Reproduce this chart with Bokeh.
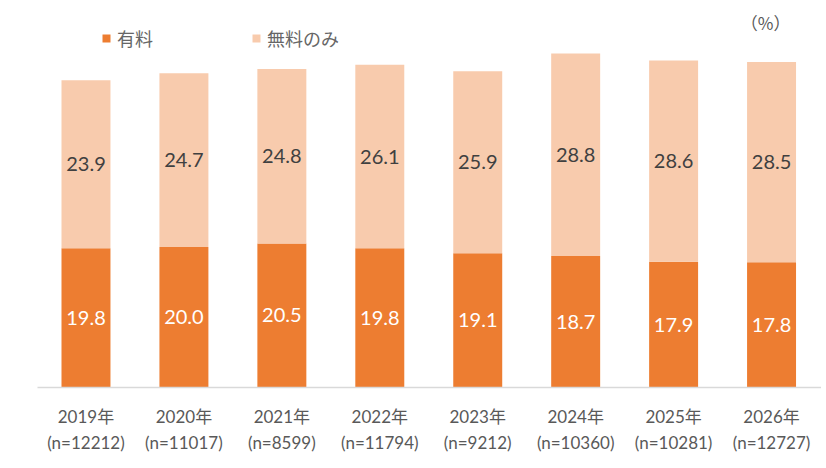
from bokeh.plotting import figure
from bokeh.models import (Range1d, LinearAxis, FixedTicker, Legend, LegendItem,
                          ColumnDataSource, Label)
from bokeh.core.properties import value
from bokeh.embed import file_html
from bokeh.resources import INLINE

years = ["2019年", "2020年", "2021年", "2022年", "2023年", "2024年", "2025年", "2026年"]
n_labels = ["(n=12212)", "(n=11017)", "(n=8599)", "(n=11794)", "(n=9212)",
            "(n=10360)", "(n=10281)", "(n=12727)"]
paid = [19.8, 20.0, 20.5, 19.8, 19.1, 18.7, 17.9, 17.8]
free_only = [23.9, 24.7, 24.8, 26.1, 25.9, 28.8, 28.6, 28.5]
series_names = ["有料", "無料のみ"]
unit_label = "（%）"

C_PAID = "#ED7D31"
C_FREE = "#F8CBAD"
NUM_FONT = "Lato, 'Noto Sans CJK JP'"
JP_FONT = "'Noto Sans CJK JP'"

idx = list(range(len(years)))
FRAME_H = 387
Y_END = FRAME_H / 7.03

src = ColumnDataSource(dict(
    x=idx, paid=paid, free=free_only,
    paid_mid=[p / 2 for p in paid],
    free_mid=[p + f / 2 for p, f in zip(paid, free_only)],
    paid_txt=[f"{v:.1f}" for v in paid],
    free_txt=[f"{v:.1f}" for v in free_only],
))

p = figure(width=821, height=460, output_backend="svg", toolbar_location=None,
           x_range=Range1d(-0.495, 7.51), y_range=Range1d(0, Y_END),
           x_axis_location=None, y_axis_location=None,
           min_border_left=37, min_border_right=0, min_border_top=0,
           min_border_bottom=460 - FRAME_H, outline_line_color=None)
p.grid.visible = False

rs = p.vbar_stack(["paid", "free"], x="x", width=0.5, source=src,
                  color=[C_PAID, C_FREE], line_color=None)

p.text(x="x", y="paid_mid", text="paid_txt", source=src, text_color="white",
       text_font=value(NUM_FONT), text_font_size="20px",
       text_align="center", text_baseline="middle")
p.text(x="x", y="free_mid", text="free_txt", source=src, text_color="#404040",
       text_font=value(NUM_FONT), text_font_size="20px",
       text_align="center", text_baseline="middle")

ax1 = LinearAxis(ticker=FixedTicker(ticks=idx),
                 major_label_overrides={i: y for i, y in zip(idx, years)})
ax1.axis_line_color = "#D9D9D9"
ax1.axis_line_width = 1.5
ax1.major_tick_line_color = None
ax1.minor_tick_line_color = None
ax1.major_tick_out = 0
ax1.major_label_standoff = 18
ax1.major_label_text_font = NUM_FONT
ax1.major_label_text_font_size = "17px"
ax1.major_label_text_color = "#595959"
p.add_layout(ax1, "below")

ax2 = LinearAxis(ticker=FixedTicker(ticks=idx),
                 major_label_overrides={i: n for i, n in zip(idx, n_labels)})
ax2.axis_line_color = None
ax2.major_tick_line_color = None
ax2.minor_tick_line_color = None
ax2.major_tick_out = 0
ax2.major_label_standoff = 2
ax2.major_label_text_font = NUM_FONT
ax2.major_label_text_font_size = "17px"
ax2.major_label_text_color = "#595959"
p.add_layout(ax2, "below")

legend = Legend(items=[LegendItem(label=series_names[0], renderers=[rs[0]]),
                       LegendItem(label=series_names[1], renderers=[rs[1]])],
                orientation="horizontal", location=(64, 336),
                glyph_width=10, glyph_height=10, label_standoff=6,
                label_width=134, spacing=0, padding=0, margin=0,
                border_line_color=None, background_fill_alpha=0,
                label_text_font=JP_FONT, label_text_font_size="18px",
                label_text_color="#666666")
p.add_layout(legend, "center")

p.add_layout(Label(x=len(years) - 1, y=Y_END * (1 - 22 / FRAME_H), text=unit_label,
                   x_offset=-6, text_font=JP_FONT, text_font_size="17px",
                   text_color="#595959", text_align="center",
                   text_baseline="middle"))

open("out.html", "w").write(file_html(p, INLINE))
